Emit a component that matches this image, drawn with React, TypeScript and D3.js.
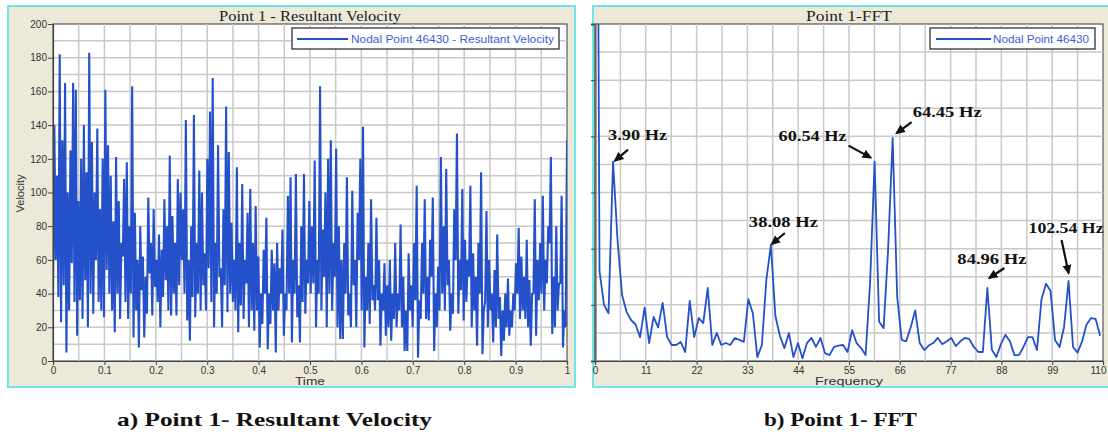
import { useEffect, useRef } from 'react';
import * as d3 from 'd3';

// resultant velocity at nodal point 46430, 384 samples over 0..1 s
const velocity = [
  40, 140, 60, 110, 38, 182, 23, 131, 45, 165, 5, 100, 30, 125, 58, 165, 35, 161, 15, 95, 36, 120, 25, 140,
  48, 112, 20, 183, 40, 130, 28, 100, 60, 138, 35, 90, 30, 120, 26, 161, 54, 128, 40, 110, 30, 83, 17, 121,
  40, 95, 25, 70, 62, 108, 35, 118, 25, 80, 40, 163, 14, 88, 30, 60, 8, 80, 42, 62, 14, 50, 28, 97,
  52, 70, 27, 90, 44, 60, 35, 75, 20, 66, 38, 96, 48, 80, 30, 122, 27, 86, 40, 70, 27, 108, 45, 100,
  60, 90, 40, 143, 24, 60, 12, 80, 38, 146, 26, 70, 40, 113, 30, 100, 45, 64, 30, 120, 55, 148, 35, 168,
  20, 70, 40, 128, 50, 55, 20, 90, 45, 151, 29, 124, 40, 82, 35, 60, 30, 115, 17, 70, 33, 105, 25, 60,
  46, 88, 20, 102, 30, 70, 18, 92, 30, 62, 8, 40, 22, 66, 40, 85, 7, 40, 22, 66, 30, 58, 5, 70,
  30, 55, 40, 78, 15, 40, 30, 98, 40, 109, 11, 60, 40, 111, 26, 45, 11, 80, 35, 111, 28, 60, 46, 95,
  40, 80, 46, 119, 20, 60, 40, 163, 30, 78, 50, 100, 20, 120, 40, 131, 30, 70, 50, 126, 20, 80, 13, 60,
  13, 70, 40, 109, 27, 40, 20, 101, 45, 60, 20, 88, 60, 120, 30, 139, 8, 50, 30, 70, 22, 96, 36, 45,
  30, 85, 36, 60, 9, 40, 30, 58, 15, 45, 20, 60, 12, 40, 25, 70, 20, 40, 30, 81, 20, 50, 6, 30,
  6, 64, 30, 45, 20, 70, 36, 104, 2, 36, 25, 70, 40, 96, 25, 50, 24, 72, 50, 97, 6, 40, 20, 56,
  30, 121, 40, 80, 30, 114, 45, 60, 18, 40, 28, 90, 60, 135, 28, 60, 42, 102, 24, 72, 35, 60, 50, 104,
  20, 64, 30, 50, 9, 70, 40, 112, 4, 30, 35, 89, 20, 60, 30, 40, 11, 54, 20, 75, 25, 38, 3, 30,
  12, 40, 20, 49, 15, 30, 20, 40, 30, 58, 40, 79, 25, 62, 30, 50, 25, 72, 20, 48, 9, 40, 40, 96,
  15, 60, 36, 70, 40, 98, 30, 60, 46, 80, 70, 121, 16, 50, 20, 80, 30, 46, 46, 98, 8, 30, 20, 131,
];

// FFT bins (1000/1024 Hz apart), amplitude in grid units (no scale shown on the chart)
const fftBin = 1000 / 1024;
const fftAmp = [
  40, 3.2, 2.0, 1.7, 7.1, 4.3, 2.35, 1.75, 1.46, 1.3,
  0.85, 1.9, 0.64, 1.57, 1.2, 2.07, 0.85, 0.57, 0.57, 0.68,
  0.32, 2.14, 0.85, 1.53, 1.35, 2.6, 0.57, 1.0, 0.57, 0.64,
  0.57, 0.82, 0.75, 0.68, 2.2, 1.7, 0.14, 0.57, 2.9, 4.13,
  1.6, 0.9, 0.46, 1.0, 0.14, 0.64, 0.1, 0.64, 0.82, 0.5,
  0.82, 0.28, 0.21, 0.5, 0.55, 0.57, 0.32, 1.1, 0.64, 0.46,
  0.21, 2.8, 7.1, 1.4, 1.17, 4.0, 7.94, 2.3, 0.75, 0.7,
  1.2, 1.8, 0.64, 0.39, 0.55, 0.64, 0.82, 0.6, 0.7, 0.82,
  0.53, 0.7, 0.82, 0.78, 0.5, 0.32, 0.32, 2.6, 0.4, 0.14,
  0.6, 0.93, 0.7, 0.21, 0.21, 0.5, 0.85, 0.85, 0.39, 2.2,
  2.75, 2.5, 0.75, 0.5, 1.2, 2.85, 0.5, 0.3, 0.7, 1.3,
  1.53, 1.5, 0.9,
];

const velTicksX = [0, 0.1, 0.2, 0.3, 0.4, 0.5, 0.6, 0.7, 0.8, 0.9, 1];
const velTicksY = [0, 20, 40, 60, 80, 100, 120, 140, 160, 180, 200];
const fftTicksX = [0, 11, 22, 33, 44, 55, 66, 77, 88, 99, 110];
const fftTicksY = [0, 2, 4, 6, 8, 10, 12];

const peakHz = [3.90, 38.08, 60.54, 64.45, 84.96, 102.54];
const peakText = ['3.90 Hz', '38.08 Hz', '60.54 Hz', '64.45 Hz', '84.96 Hz', '102.54 Hz'];

const BLUE = '#2451c9';
const SANS = '"Liberation Sans", Arial, sans-serif';
const SERIF = '"Liberation Serif", "Times New Roman", serif';

const App = () => {
  const svgRef = useRef<SVGSVGElement>(null);

  useEffect(() => {
    if (!svgRef.current) return;
    const svg = d3.select(svgRef.current);
    svg.selectAll('*').remove();

    const defs = svg.append('defs');
    defs.append('marker')
      .attr('id', 'arrowHead')
      .attr('viewBox', '0 0 10 10')
      .attr('refX', 8).attr('refY', 5)
      .attr('markerUnits', 'userSpaceOnUse')
      .attr('markerWidth', 10).attr('markerHeight', 10)
      .attr('orient', 'auto')
      .append('path').attr('d', 'M0,0.5 L10,5 L0,9.5 Z').attr('fill', '#111');

    // panels
    const panel = (x: number, y: number, w: number, h: number) =>
      svg.append('rect').attr('x', x).attr('y', y).attr('width', w).attr('height', h)
        .attr('fill', '#ece9d8').attr('stroke', '#6fe6e6').attr('stroke-width', 2);
    panel(8, 6, 567, 381);
    panel(593, 6, 520, 381);

    const styleAxis = (g: any, col = '#444', w = 1.2) => {
      g.select('.domain').attr('stroke', col).attr('stroke-width', w);
      g.selectAll('.tick line').attr('stroke', '#444');
      g.selectAll('.tick text').attr('fill', '#333').style('font-family', SANS).style('font-size', '10px');
    };

    // ---------- left: resultant velocity ----------
    const L = { left: 53, right: 567, top: 24, bottom: 361 };
    const xV = d3.scaleLinear().domain([0, 1]).range([L.left, L.right]);
    const yV = d3.scaleLinear().domain([0, 200]).range([L.bottom, L.top]);

    svg.append('rect').attr('x', L.left).attr('y', L.top)
      .attr('width', L.right - L.left).attr('height', L.bottom - L.top)
      .attr('fill', '#fff').attr('stroke', '#555').attr('stroke-width', 1.2);

    const gridL = svg.append('g').attr('stroke', '#c9c9c9').attr('stroke-width', 1.5);
    xV.ticks(20).slice(1, -1).forEach(t => {
      gridL.append('line').attr('x1', xV(t)).attr('x2', xV(t)).attr('y1', L.top).attr('y2', L.bottom);
    });
    yV.ticks(20).slice(1, -1).forEach(t => {
      gridL.append('line').attr('x1', L.left).attr('x2', L.right).attr('y1', yV(t)).attr('y2', yV(t));
    });

    defs.append('clipPath').attr('id', 'clipL').append('rect')
      .attr('x', L.left).attr('y', L.top).attr('width', L.right - L.left).attr('height', L.bottom - L.top);

    const velLine = d3.line<number>()
      .x((_, i) => xV(i / (velocity.length - 1)))
      .y(d => yV(d));
    svg.append('path').datum(velocity)
      .attr('clip-path', 'url(#clipL)')
      .attr('d', velLine)
      .attr('fill', 'none').attr('stroke', BLUE).attr('stroke-width', 2.1)
      .attr('stroke-linejoin', 'bevel');

    const axLY = svg.append('g').attr('transform', `translate(${L.left},0)`)
      .call(d3.axisLeft(yV).tickValues(velTicksY).tickSize(5).tickPadding(1).tickFormat(d3.format('d')));
    styleAxis(axLY);
    const axLX = svg.append('g').attr('transform', `translate(0,${L.bottom})`)
      .call(d3.axisBottom(xV).tickValues(velTicksX).tickSize(4).tickPadding(2).tickFormat(d => String(d)));
    styleAxis(axLX);

    svg.append('text').attr('x', (L.left + L.right) / 2).attr('y', 21)
      .attr('text-anchor', 'middle').attr('textLength', 182).attr('lengthAdjust', 'spacingAndGlyphs')
      .style('font-family', SERIF).style('font-size', '14.5px').attr('fill', '#222')
      .text('Point 1 - Resultant Velocity');
    svg.append('text').attr('x', (L.left + L.right) / 2).attr('y', 385)
      .attr('text-anchor', 'middle').attr('textLength', 30).attr('lengthAdjust', 'spacingAndGlyphs')
      .style('font-family', SANS).style('font-size', '11px').attr('fill', '#333')
      .text('Time');
    svg.append('text').attr('transform', `translate(24,${(L.top + L.bottom) / 2 + 1}) rotate(-90)`)
      .attr('text-anchor', 'middle')
      .style('font-family', SANS).style('font-size', '11px').attr('fill', '#333')
      .text('Velocity');

    // legend
    svg.append('rect').attr('x', 292).attr('y', 28).attr('width', 267).attr('height', 21)
      .attr('fill', '#fff').attr('stroke', '#333').attr('stroke-width', 1.3);
    svg.append('line').attr('x1', 297).attr('x2', 348).attr('y1', 39).attr('y2', 39)
      .attr('stroke', BLUE).attr('stroke-width', 2);
    svg.append('text').attr('x', 351).attr('y', 43).attr('textLength', 203).attr('lengthAdjust', 'spacingAndGlyphs')
      .style('font-family', SANS).style('font-size', '11px').attr('fill', '#3562d4')
      .text('Nodal Point 46430 - Resultant Velocity');

    // ---------- right: FFT ----------
    const R = { left: 595, right: 1103, top: 24, bottom: 361 };
    const xF = d3.scaleLinear().domain([0, 110]).range([R.left, R.right]);
    const yF = d3.scaleLinear().domain([0, 12]).range([R.bottom, R.top]);

    svg.append('rect').attr('x', R.left).attr('y', R.top)
      .attr('width', R.right - R.left).attr('height', R.bottom - R.top)
      .attr('fill', '#fff').attr('stroke', '#555').attr('stroke-width', 1.2);

    const gridR = svg.append('g').attr('stroke', '#c9c9c9').attr('stroke-width', 1.5);
    d3.range(1, 20).map(i => i * 5.5).forEach(f => {
      gridR.append('line').attr('x1', xF(f)).attr('x2', xF(f)).attr('y1', R.top).attr('y2', R.bottom);
    });
    yF.ticks(12).slice(1, -1).forEach(t => {
      gridR.append('line').attr('x1', R.left).attr('x2', R.right).attr('y1', yF(t)).attr('y2', yF(t));
    });

    defs.append('clipPath').attr('id', 'clipR').append('rect')
      .attr('x', R.left).attr('y', R.top).attr('width', R.right - R.left).attr('height', R.bottom - R.top);

    const fftLine = d3.line<number>()
      .x((_, i) => xF(i * fftBin))
      .y(d => yF(d));
    svg.append('path').datum(fftAmp)
      .attr('clip-path', 'url(#clipR)')
      .attr('d', fftLine)
      .attr('fill', 'none').attr('stroke', BLUE).attr('stroke-width', 1.8)
      .attr('stroke-linejoin', 'round');

    const axRY = svg.append('g').attr('transform', `translate(${R.left},0)`)
      .call(d3.axisLeft(yF).tickValues(fftTicksY).tickSize(4).tickFormat(() => ''));
    styleAxis(axRY, '#666', 2.2);
    const axRX = svg.append('g').attr('transform', `translate(0,${R.bottom})`)
      .call(d3.axisBottom(xF).tickValues(fftTicksX).tickSize(4).tickPadding(2));
    styleAxis(axRX);
    // last label sits at the panel edge; pull it in so it stays readable
    axRX.selectAll('.tick text').filter((d: any) => d === 110).attr('dx', -5);

    svg.append('text').attr('x', (R.left + R.right) / 2).attr('y', 21)
      .attr('text-anchor', 'middle').attr('textLength', 86).attr('lengthAdjust', 'spacingAndGlyphs')
      .style('font-family', SERIF).style('font-size', '14.5px').attr('fill', '#222')
      .text('Point 1-FFT');
    svg.append('text').attr('x', (R.left + R.right) / 2).attr('y', 385)
      .attr('text-anchor', 'middle').attr('textLength', 68).attr('lengthAdjust', 'spacingAndGlyphs')
      .style('font-family', SANS).style('font-size', '11px').attr('fill', '#333')
      .text('Frequency');

    svg.append('rect').attr('x', 930).attr('y', 28).attr('width', 165).attr('height', 21)
      .attr('fill', '#fff').attr('stroke', '#333').attr('stroke-width', 1.3);
    svg.append('line').attr('x1', 936).attr('x2', 991).attr('y1', 39).attr('y2', 39)
      .attr('stroke', BLUE).attr('stroke-width', 2);
    svg.append('text').attr('x', 993).attr('y', 43).attr('textLength', 96).attr('lengthAdjust', 'spacingAndGlyphs')
      .style('font-family', SANS).style('font-size', '11px').attr('fill', '#3562d4')
      .text('Nodal Point 46430');

    // peak call-outs: text offset, arrow tip / tail offsets relative to the peak, label width
    const callout = [
      { tx: -5, ty: -22, anchor: 'start', tip: [2, -1], tail: [15, -12], w: 59 },
      { tx: -22, ty: -18, anchor: 'start', tip: [1, -1], tail: [14, -12], w: 69 },
      { tx: -28, ty: -21, anchor: 'end', tip: [-4, -4], tail: [-26, -16], w: 68 },
      { tx: 20, ty: -21, anchor: 'start', tip: [4, -5], tail: [19, -16], w: 69 },
      { tx: -30, ty: -24, anchor: 'start', tip: [2, -10], tail: [17, -20], w: 69 },
      { tx: -40, ty: -48, anchor: 'start', tip: [0, -8], tail: [-7, -41], w: 75 },
    ];
    peakHz.forEach((hz, i) => {
      const k = Math.round(hz / fftBin);
      const px = xF(k * fftBin);
      const py = yF(fftAmp[k]);
      const c = callout[i];
      svg.append('line')
        .attr('x1', px + c.tail[0]).attr('y1', py + c.tail[1])
        .attr('x2', px + c.tip[0]).attr('y2', py + c.tip[1])
        .attr('stroke', '#111').attr('stroke-width', 2.2)
        .attr('marker-end', 'url(#arrowHead)');
      svg.append('text')
        .attr('x', px + c.tx).attr('y', py + c.ty)
        .attr('text-anchor', c.anchor)
        .attr('textLength', c.w).attr('lengthAdjust', 'spacingAndGlyphs')
        .style('font-family', SERIF).style('font-size', '15px').style('font-weight', 'bold')
        .attr('fill', '#111')
        .text(peakText[i]);
    });

    // captions under the panels
    svg.append('text').attr('x', 117).attr('y', 426)
      .attr('textLength', 315).attr('lengthAdjust', 'spacingAndGlyphs')
      .style('font-family', SERIF).style('font-size', '19px').style('font-weight', 'bold').attr('fill', '#111')
      .text('a) Point 1- Resultant Velocity');
    svg.append('text').attr('x', 764).attr('y', 426)
      .attr('textLength', 153).attr('lengthAdjust', 'spacingAndGlyphs')
      .style('font-family', SERIF).style('font-size', '19px').style('font-weight', 'bold').attr('fill', '#111')
      .text('b) Point 1- FFT');
  }, []);

  return (
    <svg ref={svgRef} width={1108} height={434}
      style={{ position: 'absolute', left: 0, top: 0, background: '#fff' }} />
  );
};

export default App;
